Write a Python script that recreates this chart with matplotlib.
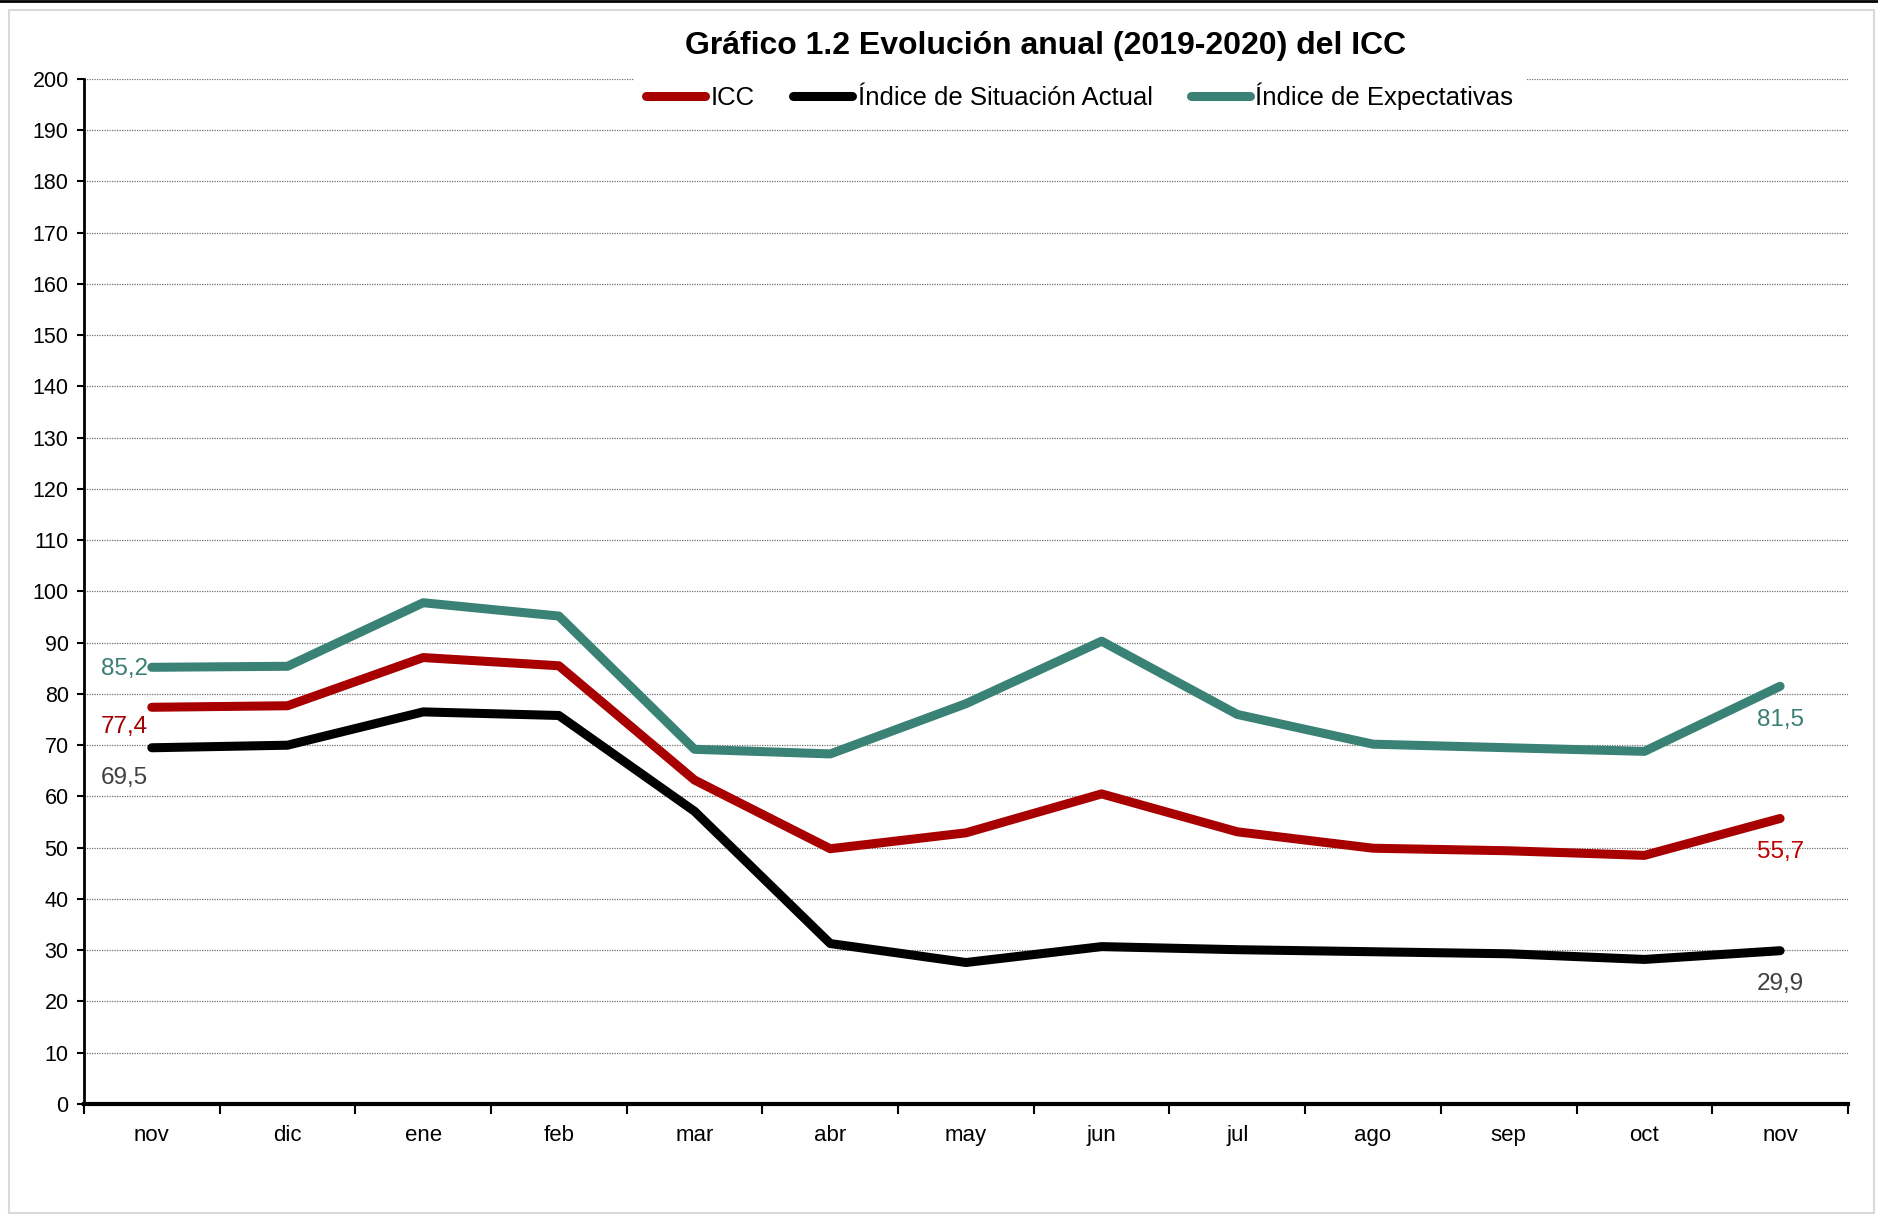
import numpy as np
import matplotlib
matplotlib.use("Agg")
import matplotlib.pyplot as plt
from matplotlib.patches import Rectangle
from matplotlib.lines import Line2D

plt.rcParams['font.family'] = ['Liberation Sans', 'DejaVu Sans']

# datos (nov 2019 - nov 2020)
meses = ["nov", "dic", "ene", "feb", "mar", "abr", "may", "jun", "jul", "ago", "sep", "oct", "nov"]
icc = [77.4, 77.7, 87.1, 85.5, 63.2, 49.8, 52.9, 60.5, 53.1, 49.9, 49.4, 48.5, 55.7]
isa = [69.5, 70.0, 76.5, 75.8, 57.1, 31.3, 27.6, 30.7, 30.1, 29.7, 29.3, 28.2, 29.9]
iec = [85.2, 85.4, 97.8, 95.2, 69.2, 68.3, 78.1, 90.3, 76.0, 70.2, 69.5, 68.8, 81.5]
nombres = ["ICC", "Índice de Situación Actual", "Índice de Expectativas"]

c_icc = "#A80000"
c_isa = "#000000"
c_iec = "#3A8275"

fig = plt.figure(figsize=(18.78, 12.15), dpi=100)
ax = fig.add_axes([0.0447, 0.0914, 0.9393, 0.8436])

x = np.arange(len(meses))
ax.plot(x, icc, color=c_icc, lw=6.5, solid_capstyle='round', solid_joinstyle='round', label=nombres[0], zorder=3)
ax.plot(x, isa, color=c_isa, lw=6.5, solid_capstyle='round', solid_joinstyle='round', label=nombres[1], zorder=3)
ax.plot(x, iec, color=c_iec, lw=6.5, solid_capstyle='round', solid_joinstyle='round', label=nombres[2], zorder=3)

ax.set_xlim(-0.5, len(meses) - 0.5)
ax.set_ylim(0, 200)
ax.set_yticks(np.arange(0, 201, 10))
ax.set_xticks(x)
ax.set_xticklabels(meses)
ax.set_xticks(np.arange(-0.5, len(meses), 1), minor=True)
ax.tick_params(axis='x', which='major', length=0, pad=15, labelsize=16)
ax.tick_params(axis='x', which='minor', length=7, width=1.5, direction='out')
ax.tick_params(axis='y', length=5, width=1.5, pad=6, labelsize=15.5)

ax.grid(axis='y', color='#707070', linestyle=(0, (1, 1)), lw=0.9, zorder=0)
ax.set_axisbelow(True)
for s in ['top', 'right']:
    ax.spines[s].set_visible(False)
ax.spines['left'].set_linewidth(2)
ax.spines['bottom'].set_linewidth(3)

# etiquetas de datos
def etiqueta(v, i, color, dx, dy):
    ax.annotate(f"{v:.1f}".replace(".", ","), xy=(i, v), xytext=(dx, dy),
                textcoords='offset points', ha='center', va='center',
                fontsize=17.5, color=color, zorder=4)

etiqueta(iec[0], 0, "#3A7F73", -20, -1)
etiqueta(icc[0], 0, "#A00000", -20, -14)
etiqueta(isa[0], 0, "#404040", -20, -22)
etiqueta(iec[-1], 12, "#3A7F73", 0, -24)
etiqueta(icc[-1], 12, "#C00000", 0, -24)
etiqueta(isa[-1], 12, "#404040", 0, -24)

fig.text(0.557, 0.962, "Gráfico 1.2 Evolución anual (2019-2020) del ICC",
         ha='center', va='center', fontsize=23, fontweight='bold')

handles = [Line2D([], [], color=c, lw=6.5, solid_capstyle='round') for c in (c_icc, c_isa, c_iec)]
leg = ax.legend(handles, nombres, loc='center', bbox_to_anchor=(0.575, 0.921),
                bbox_transform=fig.transFigure, ncol=3, fontsize=18.5,
                frameon=True, fancybox=False, edgecolor='none', facecolor='white', framealpha=1,
                handlelength=2.3, handletextpad=0.2, columnspacing=1.5, borderpad=0.5)

# marco exterior
fig.patches.append(Rectangle((0.005, 0.002), 0.993, 0.99, transform=fig.transFigure,
                             fill=False, edgecolor='#D9D9D9', lw=1.5))
fig.add_artist(Line2D([0, 1], [0.999, 0.999], transform=fig.transFigure, color='black', lw=2))

fig.savefig("out.png", dpi=100)
